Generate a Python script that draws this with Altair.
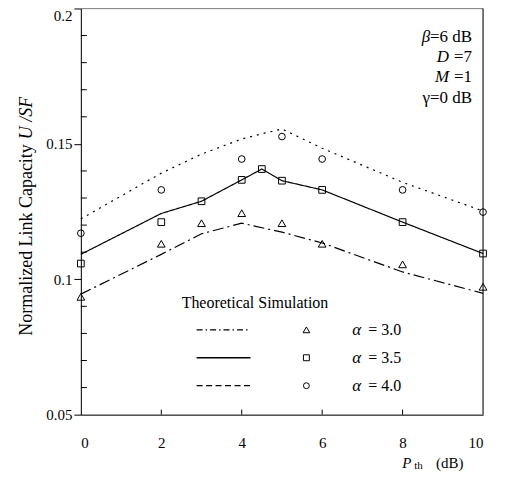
import altair as alt
import pandas as pd

# ---------------- data ----------------
x_a30_theory = [0, 2, 3, 4, 5, 6, 8, 10]
y_a30_theory = [0.0945, 0.1092, 0.1168, 0.1207, 0.1174, 0.1134, 0.1027, 0.0948]
x_a35_theory = [0, 2, 3, 4, 4.5, 5, 6, 8, 10]
y_a35_theory = [0.1092, 0.1243, 0.1288, 0.1367, 0.1407, 0.1364, 0.1330, 0.1211, 0.1095]
x_a40_theory = [0, 2, 3, 4, 4.5, 5, 6, 8, 10]
y_a40_theory = [0.1223, 0.1392, 0.1462, 0.1518, 0.1537, 0.1555, 0.1484, 0.1358, 0.1252]

x_a30_sim = [0, 2, 3, 4, 5, 6, 8, 10]
y_a30_sim = [0.0935, 0.1131, 0.1207, 0.1244, 0.1207, 0.1131, 0.1055, 0.0972]
x_a35_sim = [0, 2, 3, 4, 4.5, 5, 6, 8, 10]
y_a35_sim = [0.1058, 0.1211, 0.1288, 0.1367, 0.1407, 0.1364, 0.1330, 0.1211, 0.1095]
x_a40_sim = [0, 2, 4, 5, 6, 8, 10]
y_a40_sim = [0.1170, 0.1330, 0.1444, 0.1527, 0.1444, 0.1330, 0.1248]

x_tick_values = [0, 2, 4, 6, 8, 10]
x_inner_ticks = [2, 4, 6, 8]
y_tick_values = [0.05, 0.1, 0.15, 0.2]
y_minor_ticks = [0.06, 0.07, 0.08, 0.09, 0.11, 0.12, 0.13, 0.14,
                 0.16, 0.17, 0.18, 0.19]
alpha_labels = ["3.0", "3.5", "4.0"]
annot_italic = ["β", "D", "M"]
annot_rest = ["=6 dB", "=7", "=1"]
annot_plain = "γ=0 dB"

# ---------------- layout ----------------
W, H = 403, 407
FONT = "Liberation Serif"
dummy = pd.DataFrame({"a": [0]})

xs = alt.Scale(domain=[0, 10], nice=False, zero=False)
ys = alt.Scale(domain=[0.05, 0.2], nice=False, zero=False)
x_axis = alt.Axis(values=x_tick_values, ticks=False, labelPadding=21,
                  title=None, grid=False, domainColor="black",
                  labelFont=FONT, labelFontSize=15, labelColor="black")
y_axis = alt.Axis(values=y_tick_values, ticks=True, tickSize=7, tickColor="black",
                  labelPadding=2, format="~g", title=None, grid=False,
                  domainColor="black", labelFont=FONT, labelFontSize=15,
                  labelColor="black",
                  labelBaseline={"condition": {"test": "datum.value >= 0.199", "value": "top"},
                                 "value": "middle"})


def X():
    return alt.X("x:Q", scale=xs, axis=x_axis)


def Y():
    return alt.Y("y:Q", scale=ys, axis=y_axis)


def line(xv, yv, dash):
    df = pd.DataFrame({"x": xv, "y": yv})
    return alt.Chart(df).mark_line(color="black", strokeWidth=1.2,
                                   strokeDash=dash).encode(x=X(), y=Y())


def pts(xv, yv, shape, size):
    df = pd.DataFrame({"x": xv, "y": yv})
    return alt.Chart(df).mark_point(shape=shape, size=size, color="black",
                                    strokeWidth=1, filled=False, opacity=1).encode(x=X(), y=Y())


def txt(t, x, y, size=15, italic=False, align="left", angle=0, baseline="middle"):
    kw = dict(text=t, font=FONT, fontSize=size, color="black",
              align=align, baseline=baseline, angle=angle)
    if italic:
        kw["fontStyle"] = "italic"
    return alt.Chart(dummy).mark_text(**kw).encode(x=alt.value(x), y=alt.value(y))


layers = []
layers.append(line(x_a40_theory, y_a40_theory, [2, 5]))
layers.append(line(x_a35_theory, y_a35_theory, [1, 0]))
layers.append(line(x_a30_theory, y_a30_theory, [11, 4, 2, 4]))
layers.append(pts(x_a30_sim, y_a30_sim, "triangle-up", 60))
layers.append(pts(x_a35_sim, y_a35_sim, "square", 45))
layers.append(pts(x_a40_sim, y_a40_sim, "circle", 45))

# inward minor ticks on y, inward ticks on x
layers.append(alt.Chart(pd.DataFrame({"y": y_minor_ticks})).mark_rule(
    color="black", strokeWidth=1).encode(x=alt.value(0), x2=alt.value(6), y=Y()))
layers.append(alt.Chart(pd.DataFrame({"x": x_inner_ticks})).mark_rule(
    color="black", strokeWidth=1).encode(x=X(), y=alt.value(H), y2=alt.value(H - 5)))

# frame: top (grey) and right (black)
layers.append(alt.Chart(dummy).mark_rule(color="#888888", strokeWidth=1).encode(
    x=alt.value(0), x2=alt.value(W), y=alt.value(0)))
layers.append(alt.Chart(dummy).mark_rule(color="black", strokeWidth=1).encode(
    x=alt.value(W), y=alt.value(0), y2=alt.value(H)))

# legend
layers.append(txt("Theoretical Simulation", 101, 295, size=16))
leg_dash = [[6, 3, 1.5, 3], [1, 0], [6, 3.5]]
leg_shape = ["triangle-up", "square", "circle"]
leg_size = [45, 35, 35]
for i in range(3):
    yy = 322 + 28 * i
    layers.append(alt.Chart(dummy).mark_rule(color="black", strokeWidth=1.3,
                                             strokeDash=leg_dash[i]).encode(
        x=alt.value(116), x2=alt.value(170), y=alt.value(yy)))
    layers.append(alt.Chart(dummy).mark_point(shape=leg_shape[i], size=leg_size[i],
                                              color="black", filled=False,
                                              strokeWidth=1, opacity=1).encode(
        x=alt.value(226), y=alt.value(yy)))
    layers.append(txt("α", 272, yy, size=17, italic=True))
    layers.append(txt("= " + alpha_labels[i], 288, yy, size=16))

# top-right annotations
ann_y = [29, 49, 69]
ann_split = [350, 369, 369]
for i in range(3):
    layers.append(txt(annot_rest[i], 392, ann_y[i], size=17, align="right"))
    layers.append(txt(annot_italic[i], ann_split[i], ann_y[i], size=17, italic=True, align="right"))
layers.append(txt(annot_plain, 392, 90, size=17, align="right"))

# axis titles
layers.append(txt("Normalized Link Capacity", -54, 136, size=18, align="right", angle=270))
layers.append(txt("U /SF", -54, 131, size=18, italic=True, align="left", angle=270))
layers.append(txt("P", 322, 455, size=15, italic=True))
layers.append(txt("th", 334, 458, size=11))
layers.append(txt("(dB)", 356, 455, size=15))

chart = alt.layer(*layers).properties(
    width=W, height=H,
    autosize=alt.AutoSizeParams(type="none"),
    padding={"left": 73, "top": 0, "right": 14, "bottom": 62},
).configure_view(stroke=None).configure(background="white")

chart.save("out.html", embed_options={"renderer": "svg", "actions": False})
